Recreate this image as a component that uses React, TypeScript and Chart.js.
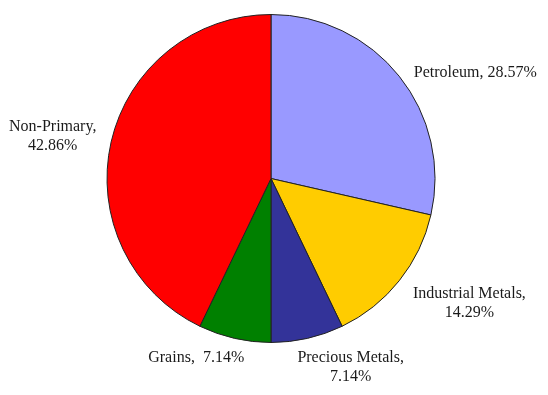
import React, { useEffect, useRef } from "react";
import { Chart, registerables } from "chart.js";

Chart.register(...registerables);

const categories = ["Petroleum", "Industrial Metals", "Precious Metals", "Grains", "Non-Primary"];
const shares = [28.57, 14.29, 7.14, 7.14, 42.86];
const colors = ["#9999FF", "#FFCC00", "#333399", "#008000", "#FF0000"];
// label text layout: 0 = one line, 1 = one line wide gap, 2 = two lines
const labelMode = [0, 2, 2, 1, 2];
// label anchor (first line centre) relative to pie centre, in units of radius
const labelOffsets: [number, number][] = [
  [1.246, -0.647],
  [1.21, 0.702],
  [0.486, 1.091],
  [-0.456, 1.091],
  [-1.331, -0.313],
];

const labelPlugin = {
  id: "pieLabels",
  afterDatasetsDraw(chart: any) {
    const ctx = chart.ctx;
    const meta = chart.getDatasetMeta(0);
    ctx.save();
    ctx.font = '16px "Liberation Serif", "Times New Roman", serif';
    ctx.fillStyle = "#1a1a1a";
    ctx.textAlign = "center";
    ctx.textBaseline = "middle";
    meta.data.forEach((arc: any, i: number) => {
      const { x, y, outerRadius } = arc.getProps(["x", "y", "outerRadius"], true);
      const cx = x + labelOffsets[i][0] * outerRadius;
      const cy = y + labelOffsets[i][1] * outerRadius;
      const val = shares[i].toFixed(2) + "%";
      if (labelMode[i] === 2) {
        ctx.fillText(categories[i] + ",", cx, cy);
        ctx.fillText(val, cx, cy + 19);
      } else if (labelMode[i] === 1) {
        ctx.fillText(categories[i] + ",  " + val, cx, cy);
      } else {
        ctx.fillText(categories[i] + ", " + val, cx, cy);
      }
    });
    ctx.restore();
  },
};

export default function App() {
  const ref = useRef<HTMLCanvasElement>(null);
  useEffect(() => {
    document.body.style.margin = "0";
    const chart = new Chart(ref.current!, {
      type: "pie",
      data: {
        labels: categories,
        datasets: [
          {
            data: shares,
            backgroundColor: colors,
            borderColor: "#222222",
            borderWidth: 1,
          },
        ],
      },
      options: {
        animation: false,
        responsive: false,
        maintainAspectRatio: false,
        layout: { padding: { top: 14, bottom: 52, left: 106, right: 112 } },
        plugins: { legend: { display: false }, tooltip: { enabled: false } },
      },
      plugins: [labelPlugin],
    });
    return () => chart.destroy();
  }, []);
  return (
    <div style={{ width: 548, height: 395, background: "#fff" }}>
      <canvas ref={ref} width={548} height={395} style={{ width: 548, height: 395 }} />
    </div>
  );
}
